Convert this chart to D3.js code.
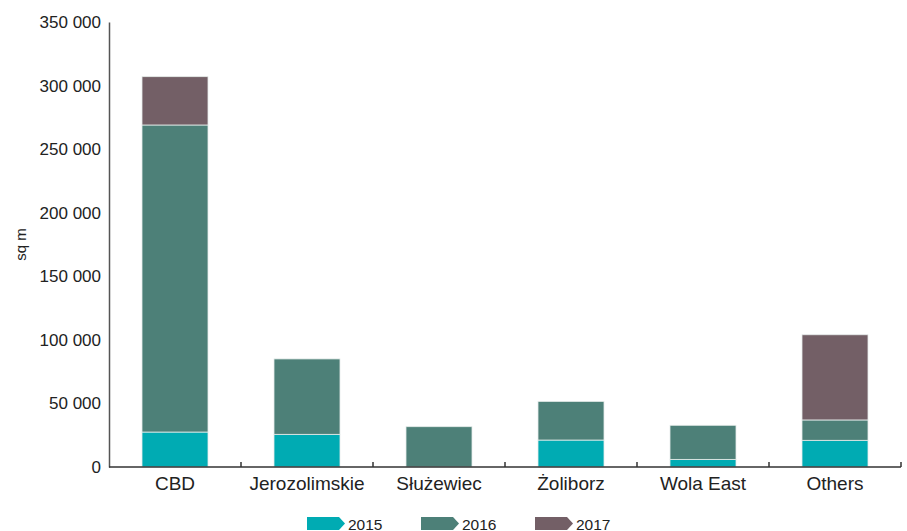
<!DOCTYPE html>
<html>
<head>
<meta charset="utf-8">
<script src="https://cdn.jsdelivr.net/npm/d3@7"></script>
<style>
  html, body { margin: 0; padding: 0; background: #fff; }
  svg { display: block; font-family: "Liberation Sans", Arial, Helvetica, sans-serif; }
</style>
</head>
<body>
<svg id="chart" width="907" height="531"></svg>
<script>
// Office supply by district, sq m
const districts = ["CBD", "Jerozolimskie", "Służewiec", "Żoliborz", "Wola East", "Others"];
const years = ["2015", "2016", "2017"];
const values2015 = [27500, 25700, 0, 21200, 6000, 21000];
const values2016 = [241500, 59300, 31700, 30400, 26800, 16000];
const values2017 = [38000, 0, 0, 0, 0, 67000];
const yTicks = [0, 50000, 100000, 150000, 200000, 250000, 300000, 350000];
const colors = ["#00abb3", "#4d8078", "#735f66"];

const rows = districts.map((d, i) => ({
  district: d, "2015": values2015[i], "2016": values2016[i], "2017": values2017[i]
}));

const svg = d3.select("#chart");
const margin = { left: 109, right: 6, top: 22, bottom: 64 };
const W = 907, H = 531;

const x = d3.scaleBand().domain(districts)
  .range([margin.left, W - margin.right]).paddingInner(0.5).paddingOuter(0.25);
const y = d3.scaleLinear().domain([0, 350000]).range([H - margin.bottom, margin.top]);

const fmt = v => d3.format(",")(v).replace(/,/g, " ");

// stacked bars
const stack = d3.stack().keys(years)(rows);
svg.append("g").selectAll("g").data(stack).join("g")
  .attr("fill", (d, i) => colors[i])
  .selectAll("rect").data(d => d.filter(s => s[1] - s[0] > 0)).join("rect")
  .attr("x", d => x(d.data.district))
  .attr("width", x.bandwidth())
  .attr("y", d => y(d[1]))
  .attr("height", d => y(d[0]) - y(d[1]))
  .attr("stroke", "#e6ecea")
  .attr("stroke-width", 0.8);

// y axis: line and labels only
const yAxis = svg.append("g").attr("transform", `translate(${margin.left},0)`)
  .call(d3.axisLeft(y).tickValues(yTicks).tickFormat(fmt).tickSize(0).tickPadding(8));
yAxis.select(".domain").attr("stroke", "#555").attr("stroke-width", 1.5);
yAxis.selectAll("text").attr("font-size", 17).attr("fill", "#222")
  .attr("font-family", "Liberation Sans, Arial, sans-serif");

// x axis with separators between categories
const x0 = H - margin.bottom;
const xAxis = svg.append("g").attr("transform", `translate(0,${x0})`)
  .call(d3.axisBottom(x).tickSize(0).tickPadding(10));
xAxis.select(".domain").attr("stroke", "#333").attr("stroke-width", 1.5)
  .attr("d", `M${margin.left},0H${W - margin.right}`);
xAxis.selectAll("text").attr("font-size", 19).attr("fill", "#222")
  .attr("font-family", "Liberation Sans, Arial, sans-serif");
const step = x.step();
svg.append("g").selectAll("line").data(districts).join("line")
  .attr("x1", (d, i) => margin.left + step * (i + 1))
  .attr("x2", (d, i) => margin.left + step * (i + 1))
  .attr("y1", x0).attr("y2", x0 - 5)
  .attr("stroke", "#333").attr("stroke-width", 1.5);

// y axis title
svg.append("text")
  .attr("transform", `translate(26,${(margin.top + x0) / 2}) rotate(-90)`)
  .attr("text-anchor", "middle")
  .attr("font-size", 15).attr("fill", "#222")
  .text("sq m");

// legend with arrow-shaped swatches
const legendX = [307, 421, 535];
const lg = svg.append("g").selectAll("g").data(years).join("g")
  .attr("transform", (d, i) => `translate(${legendX[i]},517)`);
lg.append("path")
  .attr("d", "M0,0H32L38,6.5L32,13H0Z")
  .attr("fill", (d, i) => colors[i]);
lg.append("text")
  .attr("x", 41).attr("y", 12.5)
  .attr("font-size", 15.5).attr("fill", "#222")
  .text(d => d);
</script>
</body>
</html>
